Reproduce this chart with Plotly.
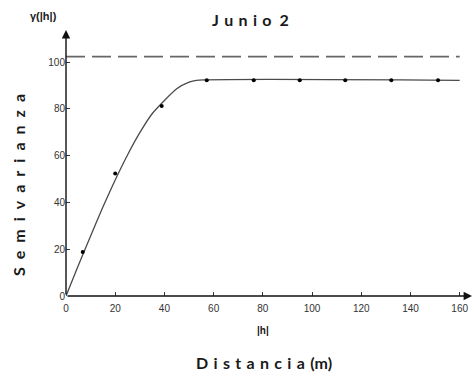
import plotly.graph_objects as go

# Experimental semivariogram points
lag_h = [6.8, 20.0, 38.9, 57.2, 76.3, 95.0, 113.5, 132.2, 151.2]
gamma_exp = [18.8, 52.4, 81.2, 92.2, 92.2, 92.2, 92.2, 92.2, 92.2]

# Fitted model curve
model_h = [0, 5, 10, 15, 20, 25, 30, 35, 40, 45, 50, 53, 160]
model_gamma = [0, 13.0, 25.7, 38.0, 49.6, 60.3, 69.8, 77.9, 83.6, 88.6, 91.4, 92.2, 92.2]

# Sample variance (dashed line)
variance_h = [0, 160]
variance_gamma = [102.3, 102.3]

x_ticks = [0, 20, 40, 60, 80, 100, 120, 140, 160]
y_ticks = [0, 20, 40, 60, 80, 100]

W, H = 474, 379
L, R, T, B = 66, 2, 30, 83
pw, ph = W - L - R, H - T - B


def pix(xp, yp):
    """pixel position in the window -> paper coords"""
    return (xp - L) / pw, (H - B - yp) / ph


fig = go.Figure()
fig.add_trace(go.Scatter(x=variance_h, y=variance_gamma, mode="lines",
                         line=dict(color="#666666", width=1.8, dash="19px,7px"),
                         hoverinfo="skip", showlegend=False))
fig.add_trace(go.Scatter(x=model_h, y=model_gamma, mode="lines",
                         line=dict(color="#4a4a4a", width=1.3, shape="spline", smoothing=0.6),
                         showlegend=False))
fig.add_trace(go.Scatter(x=lag_h, y=gamma_exp, mode="markers",
                         marker=dict(color="black", size=4),
                         showlegend=False))

FONT = "Liberation Sans, Arial"
TFONT = "Lato, Open Sans, sans-serif"
tick_font = dict(family=FONT, size=10, color="#333333")


def text_ann(xp, yp, text, size, angle=0, family=TFONT):
    x, y = pix(xp, yp)
    return dict(x=x, y=y, xref="paper", yref="paper", text=text, showarrow=False,
                xanchor="center", yanchor="middle", textangle=angle,
                font=dict(family=family, size=size, color="#1a1a1a"))


def spaced(word, sep):
    return sep.join(list(word))


fig.update_layout(
    width=W, height=H,
    margin=dict(l=L, r=R, t=T, b=B),
    paper_bgcolor="white", plot_bgcolor="white",
    xaxis=dict(range=[0, 165], tickvals=x_ticks, ticktext=[str(v) for v in x_ticks],
               ticks="inside", ticklen=4, tickcolor="#333", showgrid=False, zeroline=False,
               showline=False, tickfont=tick_font, ticklabelstandoff=5),
    yaxis=dict(range=[0, 113.7], tickvals=y_ticks, ticktext=[str(v) for v in y_ticks],
               ticks="inside", ticklen=4, tickcolor="#333", showgrid=False, zeroline=False,
               showline=False, tickfont=tick_font),
    annotations=[
        dict(x=165, y=0, ax=0, ay=0, xref="x", yref="y", axref="x", ayref="y",
             text="", showarrow=True, arrowhead=2, arrowsize=1.2, arrowwidth=1.4, arrowcolor="#111"),
        dict(x=0, y=113.7, ax=0, ay=0, xref="x", yref="y", axref="x", ayref="y",
             text="", showarrow=True, arrowhead=2, arrowsize=1.2, arrowwidth=1.4, arrowcolor="#111"),
        text_ann(250, 20, "<b>" + spaced("Junio", "\u2004") + "\u2002" + "2</b>", 16),
        text_ann(43, 16, "<b>γ(|h|)</b>", 11, family=FONT),
        text_ann(263, 330, "<b>|h|</b>", 10, family=FONT),
        text_ann(264, 362, "<b>" + spaced("Distancia", "\u2004") + "\u2004(m)</b>", 16),
        text_ann(19, 185, "<b>" + spaced("Semivarianza", "\u2002") + "</b>", 16, angle=-90),
    ],
)

fig.write_html("out.html", config={"displayModeBar": False},
               post_script="document.body.style.margin='0';document.body.style.overflow='hidden';")
